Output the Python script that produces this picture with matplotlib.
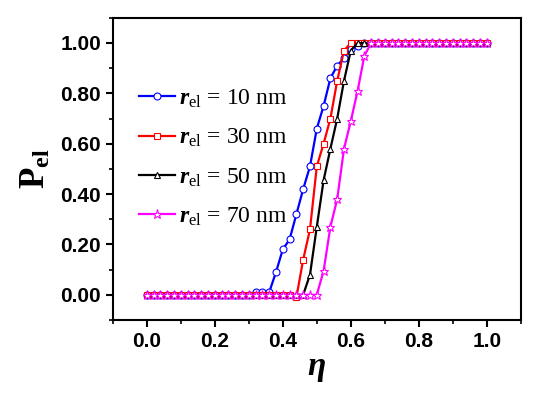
import numpy as np
import matplotlib
matplotlib.use("Agg")
import matplotlib.pyplot as plt
from matplotlib.ticker import MultipleLocator, FormatStrFormatter

plt.rcParams['mathtext.fontset'] = 'custom'
plt.rcParams['mathtext.rm'] = 'Liberation Serif'
plt.rcParams['mathtext.it'] = 'Liberation Serif:italic'
plt.rcParams['mathtext.bf'] = 'Liberation Serif:bold'
plt.rcParams['mathtext.bfit'] = 'Liberation Serif:bold:italic'

eta = [round(0.02 * i, 2) for i in range(51)]

def pad(rise, start):
    # values before `start` index are zero, after rise values are 1.0
    vals = [0.0] * start + rise
    vals += [1.0] * (51 - len(vals))
    return vals

# rise segments
p10_rise = [0.01, 0.012, 0.01, 0.09, 0.18, 0.22, 0.32, 0.42, 0.51, 0.66, 0.75, 0.86, 0.91, 0.94, 0.975, 0.99]
p30_rise = [-0.01, 0.14, 0.26, 0.51, 0.60, 0.70, 0.85, 0.97]
p50_rise = [0.0, 0.08, 0.27, 0.455, 0.58, 0.70, 0.85, 0.97]
p70_rise = [0.0, 0.095, 0.27, 0.38, 0.58, 0.69, 0.81, 0.95]

p10 = pad(p10_rise, 16)   # starts at eta=0.32
p30 = pad(p30_rise, 22)   # starts at eta=0.44
p50 = pad(p50_rise, 23)   # starts at eta=0.46
p70 = pad(p70_rise, 25)   # starts at eta=0.50

labels = ['10', '30', '50', '70']
series = [p10, p30, p50, p70]
colors = ['#0000ff', '#ff0000', '#000000', '#ff00ff']
markers = ['o', 's', '^', '*']

fig = plt.figure(figsize=(5.5, 3.96), dpi=100)
ax = fig.add_axes([0.205, 0.192, 0.742, 0.763])

for lab, ys, c, m in zip(labels, series, colors, markers):
    ax.plot(eta, ys, color=c, lw=1.6, marker=m, ms=5 if m != '*' else 6.5,
            mfc='white', mec=c, mew=0.8,
            label=r'$\mathbfit{r}_{\mathrm{el}}$ = ' + lab + ' nm')

ax.set_xlim(-0.1, 1.1)
ax.set_ylim(-0.1, 1.1)
ax.xaxis.set_minor_locator(MultipleLocator(0.1))
ax.yaxis.set_minor_locator(MultipleLocator(0.1))
ax.xaxis.set_major_formatter(FormatStrFormatter('%.1f'))
ax.yaxis.set_major_formatter(FormatStrFormatter('%.2f'))
ax.set_xticks([v for v in np.arange(0, 1.01, 0.2)])
ax.set_yticks([v for v in np.arange(0, 1.01, 0.2)])

for s in ax.spines.values():
    s.set_linewidth(1.5)
ax.tick_params(which='major', direction='out', length=5, width=1.5)
ax.tick_params(which='minor', direction='out', length=3, width=1.2)
for t in ax.get_xticklabels() + ax.get_yticklabels():
    t.set_fontfamily('Liberation Sans')
    t.set_fontweight('bold')
    t.set_fontsize(15)

ax.set_xlabel('η', fontfamily='Liberation Serif', fontstyle='italic',
              fontweight='bold', fontsize=24, labelpad=0)
ax.set_ylabel(r'$\mathbf{P}_{\mathbf{el}}$', fontsize=25, labelpad=6)

leg = ax.legend(loc='upper left', bbox_to_anchor=(0.04, 0.80), frameon=False,
                prop={'family': 'Liberation Serif', 'size': 17},
                handlelength=1.55, handletextpad=0.15, labelspacing=0.72,
                borderaxespad=0)

fig.savefig('out.png', dpi=100)
